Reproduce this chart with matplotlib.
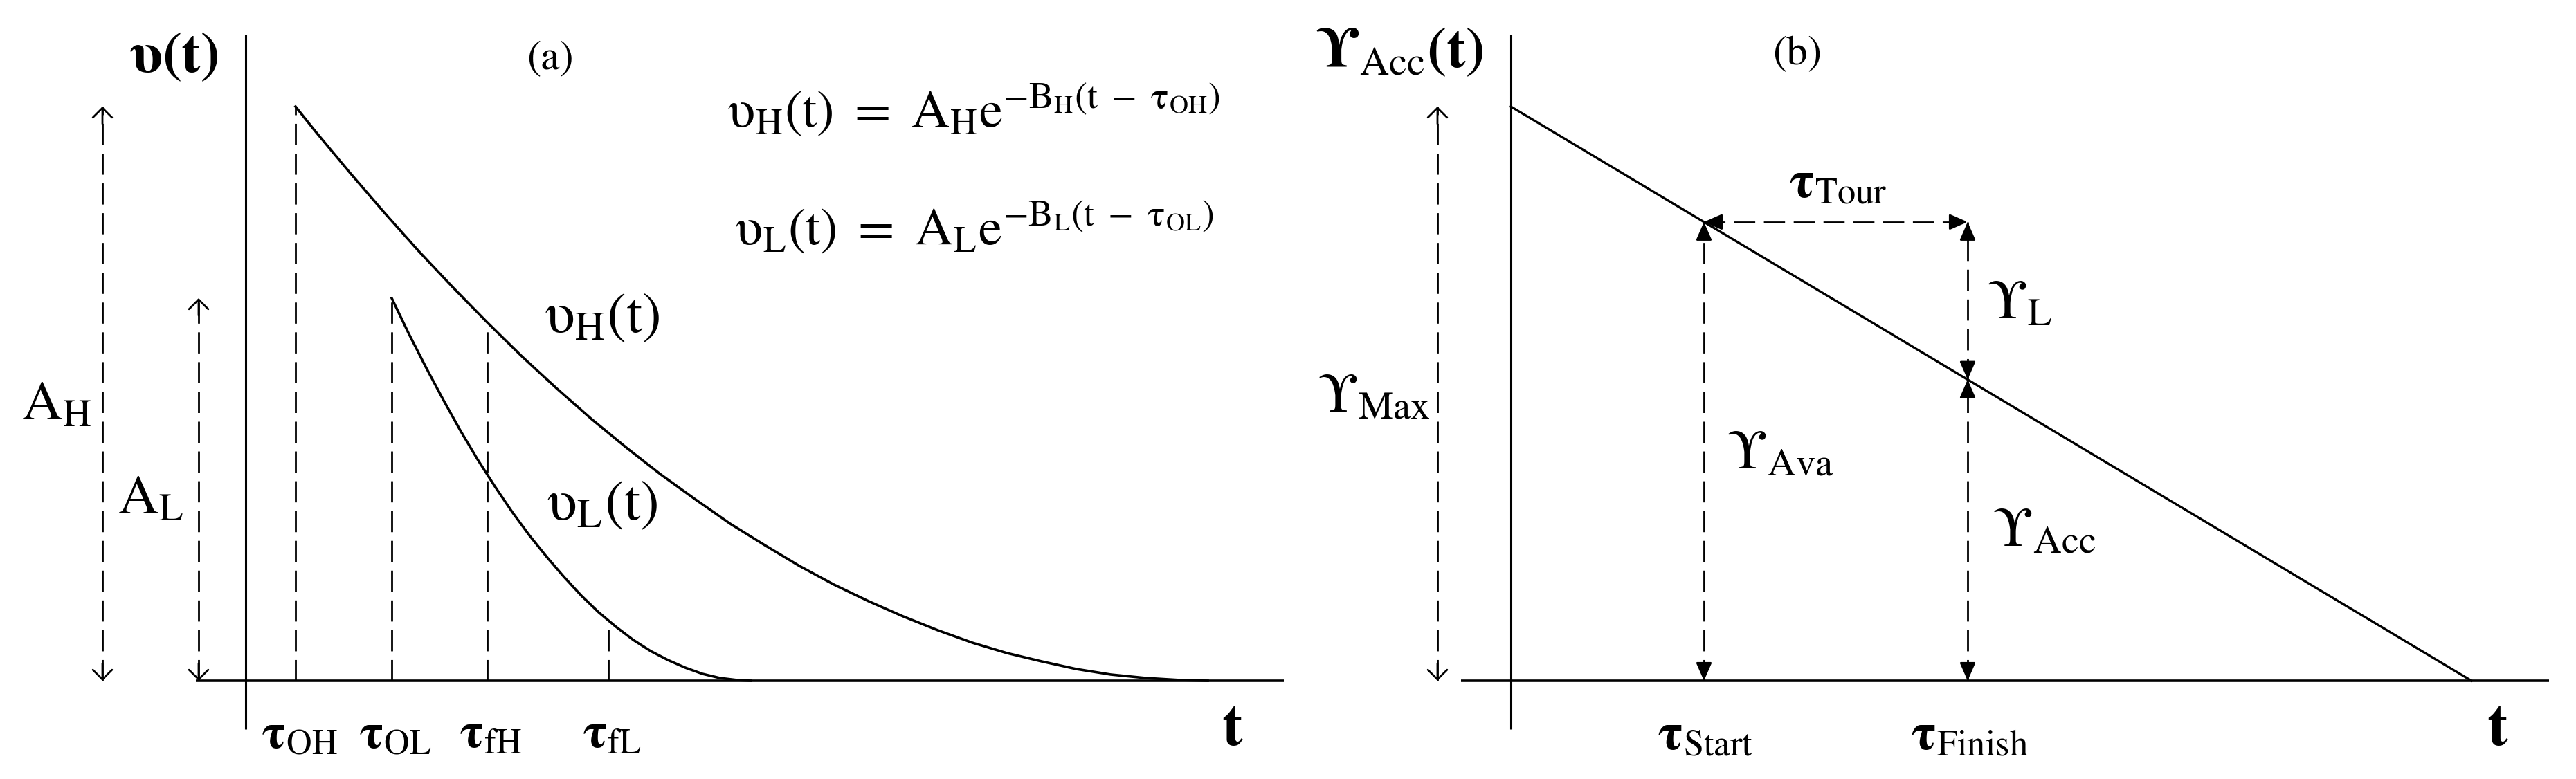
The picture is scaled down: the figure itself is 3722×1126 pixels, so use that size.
import matplotlib
matplotlib.use('Agg')
import matplotlib.pyplot as plt

plt.rcParams['mathtext.fontset'] = 'stix'
plt.rcParams['font.family'] = 'STIXGeneral'

# panel (a): decay curves (1 unit ~ 100 px, origin at axes crossing)
t_high = [0.72, 1.0, 1.5, 2.0, 2.5, 3.0, 3.49, 4.0, 4.5, 5.0, 5.5, 6.0, 6.5, 7.0, 7.5,
          8.0, 8.5, 9.0, 9.5, 10.0, 10.5, 11.0, 11.5, 12.0, 12.5, 13.0, 13.5, 13.9]
v_high = [8.30, 7.95, 7.35, 6.77, 6.21, 5.68, 5.18, 4.68, 4.22, 3.78, 3.37, 2.98, 2.62, 2.27, 1.96,
          1.66, 1.39, 1.15, 0.93, 0.73, 0.55, 0.40, 0.28, 0.17, 0.09, 0.04, 0.01, 0.0]
t_low = [2.11, 2.35, 2.6, 2.85, 3.1, 3.35, 3.6, 3.85, 4.1, 4.35, 4.6, 4.85, 5.1, 5.35,
         5.6, 5.85, 6.1, 6.35, 6.6, 6.85, 7.1, 7.3]
v_low = [5.53, 5.03, 4.54, 4.07, 3.62, 3.20, 2.81, 2.44, 2.10, 1.79, 1.50, 1.23, 0.99, 0.78,
         0.59, 0.43, 0.30, 0.19, 0.10, 0.04, 0.01, 0.0]
tau_x = [0.72, 2.11, 3.49, 5.24]
tau_top = [8.30, 5.53, 5.18, 0.87]
tau_names = ['OH', 'OL', 'fH', 'fL']
amp_high = 8.30
amp_low = 5.53

# panel (b): accumulated value line and the marked instants
acc_t = [0.0, 13.88]
acc_v = [8.30, 0.0]
t_start = 2.79
t_finish = 6.60
acc_max = 8.30

K = 'black'
DASH = (11, 4.5)


def arrow_head(ax, tip, tail, filled):
    style = '-|>,head_length=0.8,head_width=0.35' if filled else '->,head_length=0.5,head_width=0.5'
    ax.annotate('', xy=tip, xytext=tail,
                arrowprops=dict(arrowstyle=style, color=K, lw=2.0, shrinkA=0, shrinkB=0,
                                mutation_scale=20))


def dashed_arrow(ax, p0, p1, filled=False):
    ax.plot([p0[0], p1[0]], [p0[1], p1[1]], color=K, lw=2.0, dashes=DASH)
    dx = (p1[0] - p0[0])
    dy = (p1[1] - p0[1])
    n = (dx ** 2 + dy ** 2) ** 0.5
    s = 0.25 / n
    arrow_head(ax, p1, (p1[0] - dx * s, p1[1] - dy * s), filled)
    arrow_head(ax, p0, (p0[0] + dx * s, p0[1] + dy * s), filled)


fig = plt.figure(figsize=(37.23, 11.26), dpi=100)
ax_a = fig.add_axes([0, 0, 0.5, 1])
ax_b = fig.add_axes([0.5, 0, 0.5, 1])
ax_a.set_xlim(-3.55, 15.065)
ax_b.set_xlim(-3.215, 15.40)
for ax in (ax_a, ax_b):
    ax.set_ylim(-1.42, 9.84)
    ax.axis('off')
    ax.plot([-0.72, 15.0], [0, 0], color=K, lw=2.6, solid_capstyle='butt')
    ax.plot([0, 0], [-0.70, 9.34], color=K, lw=2.2, solid_capstyle='butt')
    ax.text(14.25, -0.72, 't', fontsize=64, fontweight='bold', ha='center', va='center')

# ---- panel (a)
ax_a.plot(t_high, v_high, color=K, lw=2.6, solid_joinstyle='round')
ax_a.plot(t_low, v_low, color=K, lw=2.6, solid_joinstyle='round')
for x, top, name in zip(tau_x, tau_top, tau_names):
    ax_a.plot([x, x], [0, top], color=K, lw=2.0, dashes=DASH)
    ax_a.text(x + 0.05, -0.8, r'$\mathbf{\tau}_{\mathrm{%s}}$' % name, fontsize=52,
              ha='center', va='center')
dashed_arrow(ax_a, (-2.07, 0), (-2.07, amp_high))
dashed_arrow(ax_a, (-0.68, 0), (-0.68, amp_low))

ax_a.text(-1.04, 9.0, r'$\mathbf{\upsilon(t)}$', fontsize=60, ha='center', va='center')
ax_a.text(4.40, 8.99, '(a)', fontsize=44, ha='center', va='center')
ax_a.text(6.95, 8.0, r'$\mathrm{\upsilon_H(t)\ =\ A_He^{-B_H(t\ -\ \tau_{OH})}}$',
          fontsize=55, ha='left', va='baseline')
ax_a.text(7.06, 6.3, r'$\mathrm{\upsilon_L(t)\ =\ A_Le^{-B_L(t\ -\ \tau_{OL})}}$',
          fontsize=55, ha='left', va='baseline')
ax_a.text(5.15, 5.23, r'$\mathrm{\upsilon_H(t)}$', fontsize=60, ha='center', va='center')
ax_a.text(5.15, 2.52, r'$\mathrm{\upsilon_L(t)}$', fontsize=60, ha='center', va='center')
ax_a.text(-2.73, 3.97, r'$\mathrm{A_H}$', fontsize=58, ha='center', va='center')
ax_a.text(-1.37, 2.61, r'$\mathrm{A_L}$', fontsize=58, ha='center', va='center')

# ---- panel (b)
ax_b.plot(acc_t, acc_v, color=K, lw=2.4)
y_start = acc_max * (1 - t_start / acc_t[1])
y_finish = acc_max * (1 - t_finish / acc_t[1])
dashed_arrow(ax_b, (-1.06, 0), (-1.06, acc_max))
dashed_arrow(ax_b, (t_start, 0), (t_start, y_start), filled=True)
dashed_arrow(ax_b, (t_start, y_start), (t_finish, y_start), filled=True)
dashed_arrow(ax_b, (t_finish, y_finish), (t_finish, y_start), filled=True)
dashed_arrow(ax_b, (t_finish, 0), (t_finish, y_finish), filled=True)

ax_b.text(-1.61, 9.07, r'$\mathbf{ϒ}_{\mathrm{Acc}}\mathbf{(t)}$', fontsize=60, ha='center', va='center')
ax_b.text(4.14, 9.05, '(b)', fontsize=44, ha='center', va='center')
ax_b.text(4.72, 7.16, r'$\mathbf{\tau}_{\mathrm{Tour}}$', fontsize=54, ha='center', va='center')
ax_b.text(7.35, 5.43, r'$\mathrm{ϒ_L}$', fontsize=58, ha='center', va='center')
ax_b.text(-1.98, 4.07, r'$\mathrm{ϒ_{Max}}$', fontsize=58, ha='center', va='center')
ax_b.text(3.89, 3.26, r'$\mathrm{ϒ_{Ava}}$', fontsize=58, ha='center', va='center')
ax_b.text(7.70, 2.13, r'$\mathrm{ϒ_{Acc}}$', fontsize=58, ha='center', va='center')
ax_b.text(2.81, -0.82, r'$\mathbf{\tau}_{\mathrm{Start}}$', fontsize=54, ha='center', va='center')
ax_b.text(6.62, -0.82, r'$\mathbf{\tau}_{\mathrm{Finish}}$', fontsize=54, ha='center', va='center')

fig.savefig('out.png', dpi=100, facecolor='white')
